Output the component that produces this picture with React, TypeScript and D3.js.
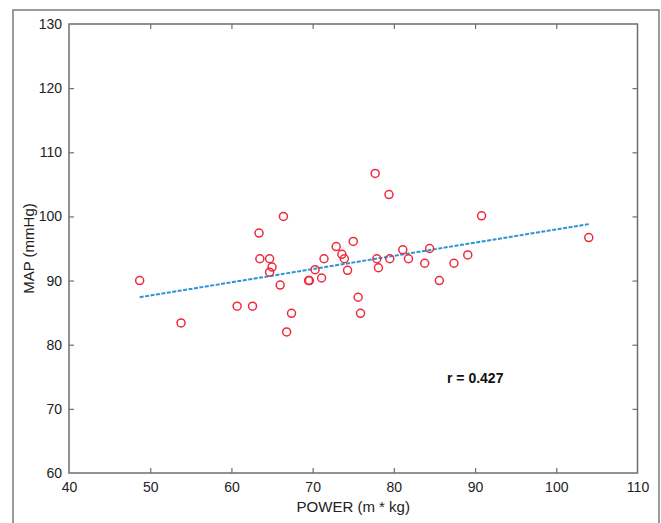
import { useEffect, useRef } from "react"
import * as d3 from "d3"

// POWER (m * kg) vs MAP (mmHg)
const power = [48.7, 53.8, 60.7, 62.6, 63.4, 63.5, 64.7, 65.0, 64.7, 66.0,
  66.4, 66.8, 67.4, 69.5, 69.6, 70.3, 71.1, 71.4, 72.9, 73.6,
  73.9, 74.3, 75.0, 75.6, 75.9, 77.7, 77.9, 78.1, 79.4, 79.5,
  81.1, 81.8, 83.8, 84.4, 85.6, 87.4, 89.1, 90.8, 104.0]
const map = [90.0, 83.4, 86.0, 86.0, 97.4, 93.4, 93.4, 92.1, 91.3, 89.3,
  100.0, 82.0, 84.9, 90.0, 90.0, 91.7, 90.4, 93.4, 95.3, 94.1,
  93.4, 91.6, 96.1, 87.4, 84.9, 106.7, 93.4, 92.0, 103.4, 93.4,
  94.8, 93.4, 92.7, 95.0, 90.0, 92.7, 94.0, 100.1, 96.7]

// fitted line end points
const fitX = [48.7, 104.0]
const fitY = [87.4, 98.8]

const xTicks = [40, 50, 60, 70, 80, 90, 100, 110]
const yTicks = [60, 70, 80, 90, 100, 110, 120, 130]
const rLabel = "r = 0.427"

export default function App() {
  const ref = useRef<HTMLDivElement>(null)

  useEffect(() => {
    buildGraph()
  }, [])

  function buildGraph({
    width = 661,
    height = 523,
    marginTop = 24,
    marginRight = 23.5,
    marginBottom = 50,
    marginLeft = 69,
  } = {}) {
    const root = d3.select(ref.current)
    root.selectAll("*").remove()

    const x = d3.scaleLinear()
      .domain([40, 110])
      .range([marginLeft, width - marginRight])

    const y = d3.scaleLinear()
      .domain([60, 130])
      .range([height - marginBottom, marginTop])

    const svg = root.append("svg")
      .attr("width", width)
      .attr("height", height)
      .attr("viewBox", [0, 0, width, height].join(" "))
      .style("display", "block")
      .style("background", "white")
      .style("font-family", "'Liberation Sans', Arial, sans-serif")

    // outer frame of the figure
    svg.append("rect")
      .attr("x", 13)
      .attr("y", 10)
      .attr("width", 646)
      .attr("height", 530)
      .attr("fill", "none")
      .attr("stroke", "#7a7a7a")
      .attr("stroke-width", 1.5)

    const axisColor = "#6e6e6e"
    const style = (g: any) => {
      g.select(".domain").remove()
      g.selectAll(".tick line").attr("stroke", axisColor).attr("stroke-width", 1.2)
      g.selectAll(".tick text")
        .attr("fill", "#222")
        .attr("font-size", 14)
        .attr("font-family", "'Liberation Sans', Arial, sans-serif")
    }

    // bottom axis (ticks inward)
    svg.append("g")
      .attr("transform", `translate(0,${y(60)})`)
      .call(d3.axisBottom(x).tickValues(xTicks).tickSizeInner(-5).tickSizeOuter(0).tickPadding(9))
      .call(style)
      .call(g => g.selectAll(".tick").filter((d: any) => d === 40 || d === 110).select("line").remove())

    // top axis
    svg.append("g")
      .attr("transform", `translate(0,${y(130)})`)
      .call(d3.axisTop(x).tickValues(xTicks).tickSizeInner(-5).tickSizeOuter(0).tickFormat(() => ""))
      .call(style)
      .call(g => g.selectAll(".tick").filter((d: any) => d === 40 || d === 110).select("line").remove())

    // left axis
    svg.append("g")
      .attr("transform", `translate(${x(40)},0)`)
      .call(d3.axisLeft(y).tickValues(yTicks).tickSizeInner(-5).tickSizeOuter(0).tickPadding(7))
      .call(style)
      .call(g => g.selectAll(".tick").filter((d: any) => d === 60 || d === 130).select("line").remove())

    // right axis
    svg.append("g")
      .attr("transform", `translate(${x(110)},0)`)
      .call(d3.axisRight(y).tickValues(yTicks).tickSizeInner(-5).tickSizeOuter(0).tickFormat(() => ""))
      .call(style)
      .call(g => g.selectAll(".tick").filter((d: any) => d === 60 || d === 130).select("line").remove())

    // plot box
    svg.append("rect")
      .attr("x", x(40))
      .attr("y", y(130))
      .attr("width", x(110) - x(40))
      .attr("height", y(60) - y(130))
      .attr("fill", "none")
      .attr("stroke", axisColor)
      .attr("stroke-width", 1.5)

    // regression line
    const line = d3.line<number>()
      .x((d, i) => x(fitX[i]))
      .y(d => y(d))
    svg.append("path")
      .datum(fitY)
      .attr("d", line)
      .attr("fill", "none")
      .attr("stroke", "#2b95d4")
      .attr("stroke-width", 2)
      .attr("stroke-dasharray", "4,1.5")

    // points
    svg.append("g")
      .selectAll("circle")
      .data(power)
      .join("circle")
        .attr("cx", d => x(d))
        .attr("cy", (d, i) => y(map[i]))
        .attr("r", 4)
        .attr("fill", "none")
        .attr("stroke", "#ee2a3c")
        .attr("stroke-width", 1.5)

    svg.append("text")
      .attr("x", 447)
      .attr("y", 383)
      .attr("font-size", 14)
      .attr("font-weight", "bold")
      .attr("fill", "#111")
      .text(rLabel)

    svg.append("text")
      .attr("x", (x(40) + x(110)) / 2)
      .attr("y", 512)
      .attr("text-anchor", "middle")
      .attr("font-size", 15)
      .attr("fill", "#222")
      .text("POWER (m * kg)")

    svg.append("text")
      .attr("transform", `translate(34,${(y(60) + y(130)) / 2}) rotate(-90)`)
      .attr("text-anchor", "middle")
      .attr("font-size", 15)
      .attr("fill", "#222")
      .text("MAP (mmHg)")
  }

  return (
    <div ref={ref} style={{ position: "absolute", left: 0, top: 0 }}></div>
  )
}
